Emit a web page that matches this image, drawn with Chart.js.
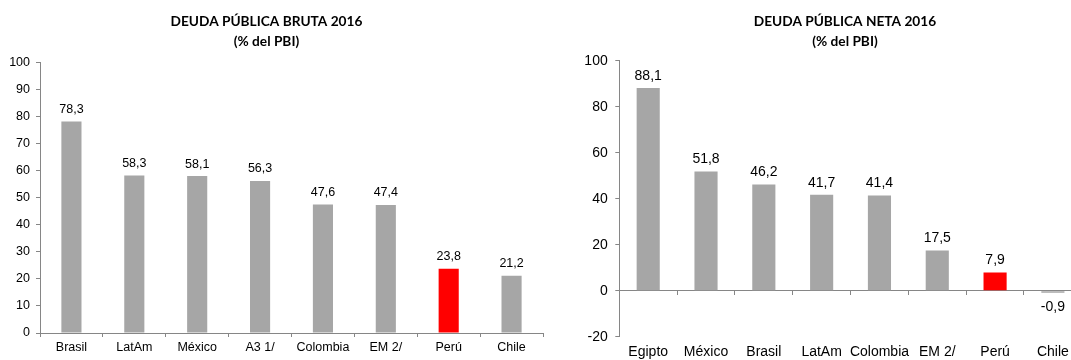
<!DOCTYPE html>
<html>
<head>
<meta charset="utf-8">
<script src="https://cdn.jsdelivr.net/npm/chart.js@4"></script>
<style>
  html, body { margin: 0; padding: 0; background: #fff; }
  body { position: relative; width: 1071px; height: 360px; overflow: hidden; }
  .box { position: absolute; top: 0; height: 360px; }
  #boxBruta { left: -10px; width: 560px; }
  #boxNeta { left: 580px; width: 530px; }
</style>
</head>
<body>
<div class="box" id="boxBruta"><canvas id="bruta" width="560" height="360"></canvas></div>
<div class="box" id="boxNeta"><canvas id="neta" width="530" height="360"></canvas></div>
<script>
const brutaLabels = ['Brasil', 'LatAm', 'México', 'A3 1/', 'Colombia', 'EM 2/', 'Perú', 'Chile'];
const brutaValues = [78.3, 58.3, 58.1, 56.3, 47.6, 47.4, 23.8, 21.2];

const netaLabels = ['Egipto', 'México', 'Brasil', 'LatAm', 'Colombia', 'EM 2/', 'Perú', 'Chile'];
const netaValues = [88.1, 51.8, 46.2, 41.7, 41.4, 17.5, 7.9, -0.9];

const brutaTicks = { min: 0, max: 100, step: 10 };
const netaTicks = { min: -20, max: 100, step: 20 };

const highlight = 'Perú';
const GRAY = '#a6a6a6';
const RED = '#ff0000';
const AXIS = '#868686';

const fmt = v => v.toFixed(1).replace('.', ',');

const valueLabels = {
  id: 'valueLabels',
  afterDatasetsDraw(chart, args, opts) {
    const ctx = chart.ctx;
    const values = chart.data.datasets[0].data;
    ctx.save();
    ctx.font = opts.size + 'px "Liberation Sans", Arial, sans-serif';
    ctx.fillStyle = '#000';
    ctx.textAlign = 'center';
    ctx.textBaseline = 'middle';
    chart.getDatasetMeta(0).data.forEach((bar, i) => {
      const v = values[i];
      const y = v >= 0 ? bar.y - opts.gap : bar.y + opts.gapNeg;
      ctx.fillText(fmt(v), bar.x, y);
    });
    ctx.restore();
  }
};

function makeChart(id, cfg) {
  const colors = cfg.labels.map(l => l === highlight ? RED : GRAY);
  const tickFont = { family: '"Liberation Sans", Arial, sans-serif', size: cfg.fontSize };
  const scales = {
    x: {
      offset: true,
      border: { display: !cfg.zeroAxis, color: AXIS },
      grid: {
        display: !cfg.zeroAxis,
        drawOnChartArea: false,
        drawTicks: !cfg.zeroAxis,
        tickLength: 4,
        color: AXIS,
        offset: true,
      },
      ticks: { color: '#000', font: tickFont, padding: cfg.xPad, autoSkip: false, maxRotation: 0 },
      afterFit: s => { s.height = cfg.xHeight; },
    },
    y: {
      min: cfg.ticks.min,
      max: cfg.ticks.max,
      border: { color: AXIS },
      grid: { drawOnChartArea: false, drawTicks: true, tickLength: 4, color: AXIS },
      ticks: { stepSize: cfg.ticks.step, color: '#000', font: tickFont, padding: cfg.yPad },
      afterFit: s => { s.width = cfg.yWidth; },
    },
  };
  if (cfg.zeroAxis) {
    // axis line and tick marks sitting on the zero value
    scales.x0 = {
      type: 'category',
      position: { y: 0 },
      offset: true,
      border: { color: AXIS },
      grid: { drawOnChartArea: false, drawTicks: true, tickLength: 4, color: AXIS, offset: true },
      ticks: { display: false },
    };
  }
  if (cfg.rightSpace) {
    // empty space on the right so the centred title lands where it should
    scales.yR = {
      position: 'right',
      border: { display: false },
      grid: { display: false, drawTicks: false },
      ticks: { display: false },
      afterFit: s => { s.width = cfg.rightSpace; },
    };
  }
  return new Chart(document.getElementById(id), {
    type: 'bar',
    data: {
      labels: cfg.labels,
      datasets: [{
        data: cfg.values,
        backgroundColor: colors,
        borderWidth: 0,
        categoryPercentage: 1,
        barPercentage: cfg.barPct,
      }],
    },
    options: {
      responsive: false,
      animation: false,
      layout: { padding: cfg.padding },
      plugins: {
        legend: { display: false },
        tooltip: { enabled: false },
        title: {
          display: true,
          text: cfg.title,
          color: '#000',
          font: { family: 'Lato, "Liberation Sans", sans-serif', weight: 'bold', size: 13.7, lineHeight: 1.423 },
          padding: cfg.titlePad,
        },
        valueLabels: { size: cfg.fontSize, gap: 12, gapNeg: 14 },
      },
      scales,
    },
    plugins: [valueLabels],
  });
}

makeChart('bruta', {
  labels: brutaLabels,
  values: brutaValues,
  ticks: brutaTicks,
  title: ['DEUDA PÚBLICA BRUTA 2016', '(% del PBI)'],
  titlePad: { top: 12, bottom: 12 },
  padding: { left: 0, right: 7, top: 0, bottom: 0 },
  yWidth: 50,
  xHeight: 27,
  xPad: 3.5,
  yPad: 6,
  fontSize: 12.5,
  barPct: 0.32,
  zeroAxis: false,
  rightSpace: 0,
});

makeChart('neta', {
  labels: netaLabels,
  values: netaValues,
  ticks: netaTicks,
  title: ['DEUDA PÚBLICA NETA 2016', '(% del PBI)'],
  titlePad: { top: 12, bottom: 9.7 },
  padding: { left: 0, right: 0, top: 0, bottom: 0 },
  yWidth: 39.3,
  xHeight: 23.3,
  xPad: 6.6,
  yPad: 7.6,
  fontSize: 14,
  barPct: 0.40,
  zeroAxis: true,
  rightSpace: 28.2,
});
</script>
</body>
</html>
